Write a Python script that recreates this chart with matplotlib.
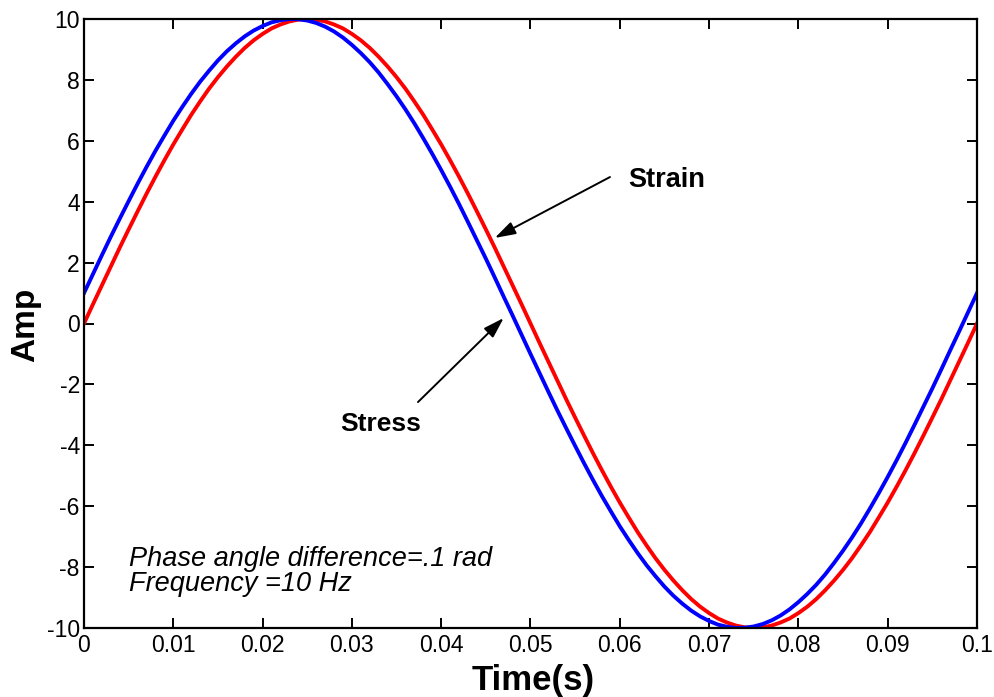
import matplotlib
matplotlib.use('Agg')
import matplotlib.pyplot as plt

plt.rcParams['font.family'] = ['Liberation Sans', 'DejaVu Sans']
plt.rcParams['axes.unicode_minus'] = False

# one period of the 10 Hz signals, sampled every 1 ms
time_s = [i * 0.001 for i in range(101)]
strain = [0.00, 0.63, 1.25, 1.87, 2.49, 3.09, 3.68, 4.26, 4.82, 5.36,
          5.88, 6.37, 6.85, 7.29, 7.71, 8.09, 8.44, 8.76, 9.05, 9.30,
          9.51, 9.69, 9.82, 9.92, 9.98, 10.00, 9.98, 9.92, 9.82, 9.69,
          9.51, 9.30, 9.05, 8.76, 8.44, 8.09, 7.71, 7.29, 6.85, 6.37,
          5.88, 5.36, 4.82, 4.26, 3.68, 3.09, 2.49, 1.87, 1.25, 0.63,
          0.00, -0.63, -1.25, -1.87, -2.49, -3.09, -3.68, -4.26, -4.82, -5.36,
          -5.88, -6.37, -6.85, -7.29, -7.71, -8.09, -8.44, -8.76, -9.05, -9.30,
          -9.51, -9.69, -9.82, -9.92, -9.98, -10.00, -9.98, -9.92, -9.82, -9.69,
          -9.51, -9.30, -9.05, -8.76, -8.44, -8.09, -7.71, -7.29, -6.85, -6.37,
          -5.88, -5.36, -4.82, -4.26, -3.68, -3.09, -2.49, -1.87, -1.25, -0.63,
          0.00]
stress = [1.00, 1.62, 2.24, 2.85, 3.44, 4.02, 4.59, 5.14, 5.67, 6.17,
          6.66, 7.11, 7.54, 7.94, 8.30, 8.64, 8.94, 9.20, 9.43, 9.62,
          9.77, 9.89, 9.96, 10.00, 9.99, 9.95, 9.87, 9.75, 9.59, 9.39,
          9.15, 8.88, 8.58, 8.24, 7.86, 7.46, 7.03, 6.57, 6.08, 5.57,
          5.04, 4.49, 3.92, 3.33, 2.73, 2.13, 1.51, 0.88, 0.26, -0.37,
          -1.00, -1.62, -2.24, -2.85, -3.44, -4.02, -4.59, -5.14, -5.67, -6.17,
          -6.66, -7.11, -7.54, -7.94, -8.30, -8.64, -8.94, -9.20, -9.43, -9.62,
          -9.77, -9.89, -9.96, -10.00, -9.99, -9.95, -9.87, -9.75, -9.59, -9.39,
          -9.15, -8.88, -8.58, -8.24, -7.86, -7.46, -7.03, -6.57, -6.08, -5.57,
          -5.04, -4.49, -3.92, -3.33, -2.73, -2.13, -1.51, -0.88, -0.26, 0.37,
          1.00]

x_ticks = [0, 0.01, 0.02, 0.03, 0.04, 0.05, 0.06, 0.07, 0.08, 0.09, 0.1]
x_labels = ['0', '0.01', '0.02', '0.03', '0.04', '0.05', '0.06', '0.07', '0.08', '0.09', '0.1']
y_ticks = [-10, -8, -6, -4, -2, 0, 2, 4, 6, 8, 10]

fig = plt.figure(figsize=(9.95, 6.97), dpi=100)
ax = fig.add_axes([84 / 995, 1 - 628 / 697, (977 - 84) / 995, (628 - 19) / 697])

ax.plot(time_s, strain, color='#ff0000', linewidth=2.8)
ax.plot(time_s, stress, color='#0000ff', linewidth=2.8)

ax.set_xlim(0, 0.1)
ax.set_ylim(-10, 10)
ax.set_xticks(x_ticks)
ax.set_xticklabels(x_labels)
ax.set_yticks(y_ticks)
ax.tick_params(direction='in', length=7, width=1.4, labelsize=16.5,
               top=True, right=True)
ax.tick_params(axis='x', pad=4)
ax.tick_params(axis='y', pad=3)
for spine in ax.spines.values():
  spine.set_linewidth(1.6)

ax.set_xlabel('Time(s)', fontsize=25, fontweight='bold', va='baseline')
ax.xaxis.set_label_coords(0.503, -0.102)
ax.set_ylabel('Amp', fontsize=24, fontweight='bold', va='baseline')
ax.yaxis.set_label_coords(-0.056, 0.498)

head = '-|>,head_length=0.7,head_width=0.22'
ax.annotate('', xy=(0.0460, 2.81), xytext=(0.0589, 4.81),
            arrowprops=dict(arrowstyle=head, color='black', lw=1.4,
                            mutation_scale=18, shrinkA=0, shrinkB=0))
ax.annotate('', xy=(0.0470, 0.18), xytext=(0.0374, -2.58),
            arrowprops=dict(arrowstyle=head, color='black', lw=1.4,
                            mutation_scale=18, shrinkA=0, shrinkB=0))
ax.text(0.0609, 4.48, 'Strain', fontsize=19.5, fontweight='bold',
        ha='left', va='baseline')
ax.text(0.0332, -3.53, 'Stress', fontsize=19, fontweight='bold',
        ha='center', va='baseline')

ax.text(0.0050, -7.30, 'Phase angle difference=.1 rad\nFrequency =10 Hz',
        fontsize=19.5, style='italic', va='top', linespacing=0.95)

fig.savefig('out.png', dpi=100)
